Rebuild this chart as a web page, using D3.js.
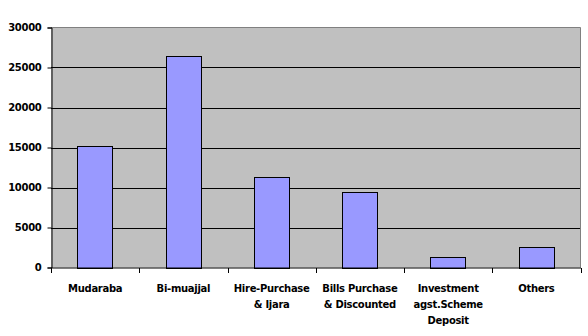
<!DOCTYPE html>
<html><head><meta charset="utf-8">
<script src="https://cdn.jsdelivr.net/npm/d3@7"></script>
<style>
html,body{margin:0;padding:0;background:#fff;}
text{font-family:"DejaVu Sans",Verdana,sans-serif;font-weight:bold;font-size:10px;fill:#000;}
</style></head>
<body><svg id="c" width="588" height="336"></svg>
<script>
const categories = ["Mudaraba","Bi-muajjal","Hire-Purchase\n& Ijara","Bills Purchase\n& Discounted","Investment\nagst.Scheme\nDeposit","Others"];
const values = [15200, 26400, 11300, 9400, 1350, 2600];
const yTicks = [0, 5000, 10000, 15000, 20000, 25000, 30000];

const svg = d3.select("#c");
const L = 51, R = 580.5, T = 27.5, B = 267.5;
const x = d3.scaleBand().domain(categories).range([L, R]).padding(0);
const y = d3.scaleLinear().domain([0, 30000]).range([B, T]);

// plot background
svg.append("rect").attr("x", L).attr("y", T).attr("width", R - L).attr("height", B - T).attr("fill", "#C0C0C0");

// gridlines
svg.append("g").selectAll("line").data(yTicks.filter(d => d > 0 && d < 30000)).join("line")
  .attr("x1", L).attr("x2", R).attr("y1", d => Math.round(y(d)) + 0.5).attr("y2", d => Math.round(y(d)) + 0.5)
  .attr("stroke", "#000").attr("stroke-width", 1);

// gray border top & right
svg.append("path").attr("d", `M${L},${T}H${R}V${B}`).attr("fill", "none").attr("stroke", "#808080").attr("stroke-width", 1);

// bars
const bw = x.bandwidth() * 0.4;
svg.append("g").selectAll("rect").data(values).join("rect")
  .attr("x", (d, i) => Math.round(x(categories[i]) + (x.bandwidth() - bw) / 2) + 0.5)
  .attr("y", d => Math.round(y(d)) + 0.5)
  .attr("width", Math.round(bw))
  .attr("height", d => Math.round(B) - Math.round(y(d)))
  .attr("fill", "#9999FF").attr("stroke", "#000").attr("stroke-width", 1);

// y axis
const ya = svg.append("g").attr("transform", `translate(${L + 0.5},0)`)
  .call(d3.axisLeft(y).tickValues(yTicks).tickSize(4).tickPadding(6).tickFormat(d3.format("d")));
ya.select(".domain").attr("stroke", "#000");
ya.selectAll(".tick line").attr("stroke", "#000");
ya.selectAll("text").style("font-family", '"DejaVu Sans",Verdana,sans-serif').style("font-weight", "bold").style("font-size", "10px").style("letter-spacing", "-0.3px");

// x axis
const xa = svg.append("g").attr("transform", `translate(0,${B + 0.5})`);
xa.append("line").attr("x1", L).attr("x2", R + 0.5).attr("y1", 0).attr("y2", 0).attr("stroke", "#000");
const bounds = categories.map(c => x(c)).concat([R]);
xa.selectAll("line.t").data(bounds).join("line").attr("class", "t")
  .attr("x1", d => Math.round(d) + 0.5).attr("x2", d => Math.round(d) + 0.5).attr("y1", 0).attr("y2", 5).attr("stroke", "#000");
xa.selectAll("text").data(categories).join("text")
  .attr("text-anchor", "middle")
  .attr("transform", c => `translate(${x(c) + x.bandwidth() / 2},0)`)
  .style("letter-spacing", "-0.3px")
  .each(function(c) {
    const lines = c.split("\n");
    d3.select(this).selectAll("tspan").data(lines).join("tspan")
      .attr("x", 0).attr("y", (d, i) => 23.5 + i * 16).text(d => d);
  });
</script>
</body></html>
